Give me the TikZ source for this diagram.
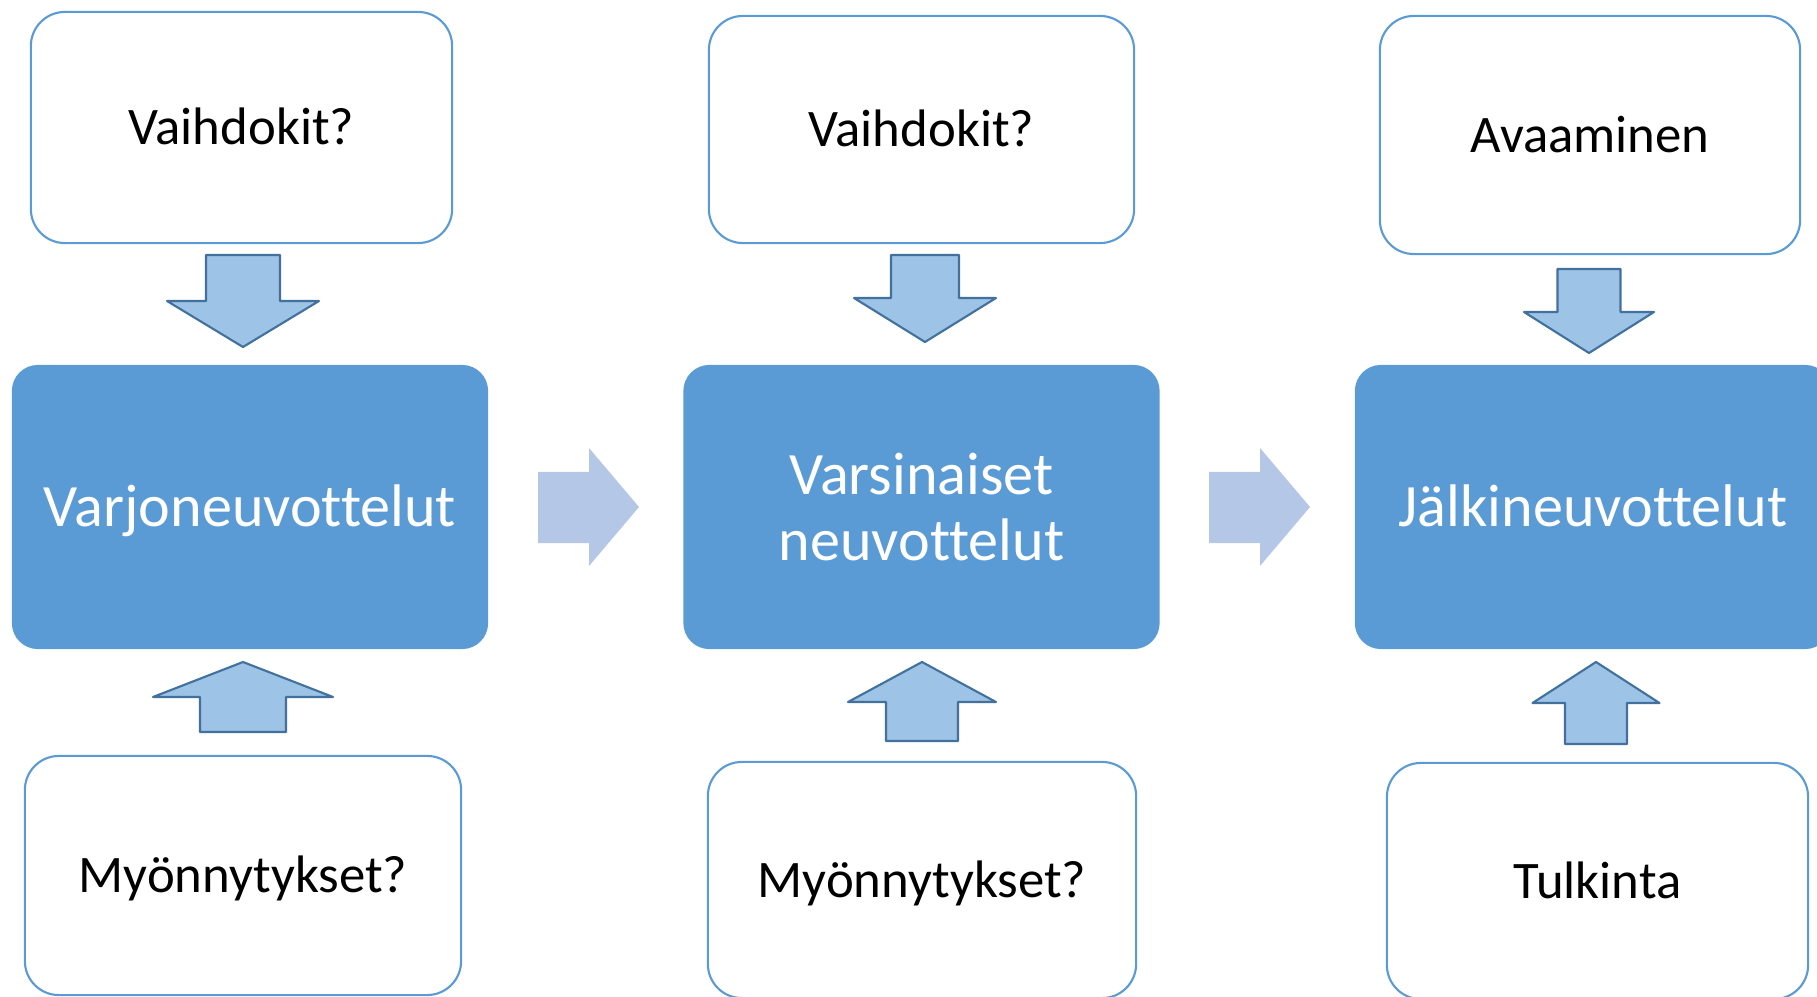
\documentclass[tikz,border=0pt]{standalone}
\usepackage{fontspec}
\setmainfont{Carlito}[RawFeature = {-liga;-clig;-calt}]

\definecolor{stageblue}{HTML}{5B9BD5}
\definecolor{pushblue}{HTML}{9DC3E6}
\definecolor{pushedge}{HTML}{41719C}
\definecolor{flowblue}{HTML}{B4C7E7}

\begin{document}
\begin{tikzpicture}[x = 0.01cm, y = -0.01cm,
	stage/.style = {fill = stageblue, text = white, rounded corners = 0.26cm, minimum width = 4.76cm, minimum height = 2.84cm, inner sep = 0, align = center, font = \fontsize{17.1}{19}\selectfont},
	note/.style = {draw = stageblue, line width = 0.6pt, fill = white, rounded corners = 0.34cm, inner sep = 0, text height = 9.7pt, text depth = 0pt, font = \fontsize{15}{18}\selectfont},
	capline/.style = {text height = #1, text depth = 0pt},
	push/.style = {fill = pushblue, draw = pushedge, line width = 0.6pt, line join = round}]

	% Frame

	\path [use as bounding box] (0, 0) rectangle (1817, 997);
	\clip (0, 0) rectangle (1817, 997);

	% Stages

	\node [stage, capline = 11pt] (varjo) at (250, 507) {Varjoneuvottelut};
	\node [stage] (varsin) at (921.5, 507) {Varsinaiset\\neuvottelut};
	\node [stage, capline = 11pt] (jalki) at (1593, 507) {Jälkineuvottelut};

	% Boxes above

	\node [note, minimum width = 4.21cm, minimum height = 2.31cm] (vaihto1) at (241.5, 127.5) {Vaihdokit?};
	\node [note, minimum width = 4.25cm, minimum height = 2.27cm] (vaihto2) at (921.5, 129.5) {Vaihdokit?};
	\node [note, minimum width = 4.20cm, minimum height = 2.38cm] (avaus) at (1590, 135) {Avaaminen};

	% Boxes below

	\node [note, minimum width = 4.36cm, minimum height = 2.39cm] (myonto1) at (243, 875.5) {Myönnytykset?};
	\node [note, minimum width = 4.28cm, minimum height = 2.36cm] (myonto2) at (922, 880) {Myönnytykset?};
	\node [note, minimum width = 4.21cm, minimum height = 2.36cm] (tulkinta) at (1597.5, 881) {Tulkinta};

	% Push arrows: x / shaft end / head base / tip / half shaft / half head

	\foreach \x / \a / \h / \t / \s / \w in {243/255/301/347/37/76, 925/255/298/342/34/71, 1589/269/312/353/31.5/65,
			243/732/697/662/43/90, 922/741/702/662/36/74, 1596/744/703/662/31/63.5}
		\draw [push] (\x - \s, \a) -- (\x + \s, \a) -- (\x + \s, \h) -- (\x + \w, \h) -- (\x, \t) -- (\x - \w, \h) -- (\x - \s, \h) -- cycle;

	% Flow arrows between stages

	\foreach \x in {538, 1209}
		\fill [flowblue] (\x, 472) -- (\x + 51, 472) -- (\x + 51, 448) -- (\x + 101, 507) -- (\x + 51, 566) -- (\x + 51, 543) -- (\x, 543) -- cycle;

\end{tikzpicture}
\end{document}
